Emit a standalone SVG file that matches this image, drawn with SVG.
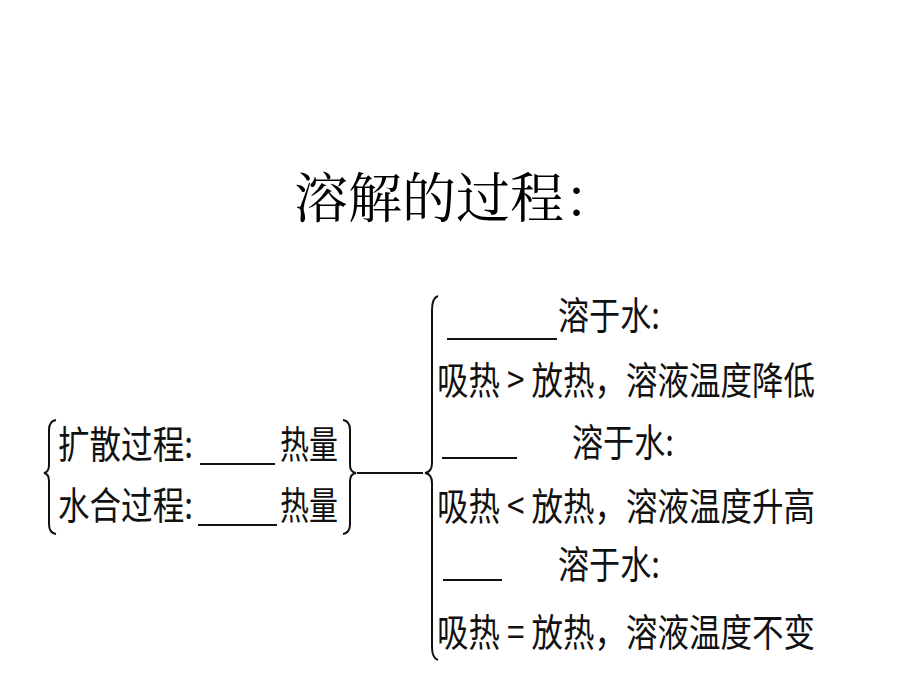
<svg xmlns="http://www.w3.org/2000/svg" width="920" height="690" viewBox="0 0 920 690">
<style>
.t{font-family:"Noto Sans CJK SC","Noto Sans CJK JP",sans-serif;font-size:38px;fill:#111}
.ttl{font-family:"Noto Serif CJK SC","Noto Sans CJK SC",serif;font-size:54px;fill:#000}
.ln{stroke:#111;stroke-width:2;fill:none}
</style>
<rect width="920" height="690" fill="#fff"/>
<g id="title"><text class="ttl" x="294" y="218">溶解的过程：</text></g>
<g id="left-group">
<path class="ln" d="M56,420 Q49,421 49,430 L49,465 Q49,472 44,473 Q49,474 49,481 L49,524 Q49,533 56,534"/>
<text class="t" x="58" y="458" textLength="135" lengthAdjust="spacingAndGlyphs">扩散过程:</text>
<line class="ln" x1="200" y1="464" x2="275" y2="464"/>
<text class="t" x="280" y="458" textLength="58" lengthAdjust="spacingAndGlyphs">热量</text>
<text class="t" x="58" y="519" textLength="135" lengthAdjust="spacingAndGlyphs">水合过程:</text>
<line class="ln" x1="198" y1="525" x2="277" y2="525"/>
<text class="t" x="280" y="519" textLength="58" lengthAdjust="spacingAndGlyphs">热量</text>
<path class="ln" d="M343,420 Q350,421 350,430 L350,465 Q350,472 356,473 Q350,474 350,481 L350,524 Q350,533 343,534"/>
</g>
<g id="connectors">
<line class="ln" x1="357" y1="473" x2="423" y2="473"/>
</g>
<g id="right-group">
<path class="ln" d="M438,296 Q432,298 432,310 L432,463 Q432,472 425,473 Q432,474 432,483 L432,647 Q432,658 438,660"/>
<line class="ln" x1="447" y1="339" x2="557" y2="339"/>
<text class="t" x="558" y="329" textLength="102" lengthAdjust="spacingAndGlyphs">溶于水:</text>
<text class="t" x="437" y="394" textLength="378" lengthAdjust="spacingAndGlyphs">吸热 &gt; 放热，溶液温度降低</text>
<line class="ln" x1="442" y1="458" x2="517" y2="458"/>
<text class="t" x="572" y="456" textLength="102" lengthAdjust="spacingAndGlyphs">溶于水:</text>
<text class="t" x="437" y="520" textLength="378" lengthAdjust="spacingAndGlyphs">吸热 &lt; 放热，溶液温度升高</text>
<line class="ln" x1="443" y1="580" x2="502" y2="580"/>
<text class="t" x="558" y="578" textLength="102" lengthAdjust="spacingAndGlyphs">溶于水:</text>
<text class="t" x="437" y="646" textLength="378" lengthAdjust="spacingAndGlyphs">吸热 = 放热，溶液温度不变</text>
</g>
</svg>
